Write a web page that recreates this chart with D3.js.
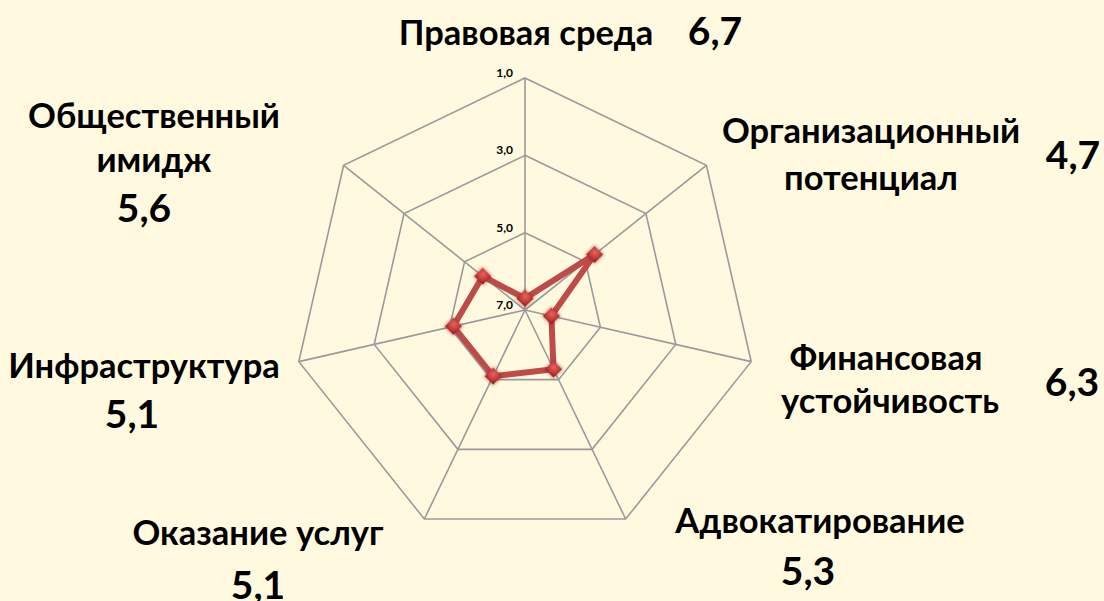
<!DOCTYPE html>
<html>
<head>
<meta charset="utf-8">
<script src="https://cdn.jsdelivr.net/npm/d3@7"></script>
<style>
  body { margin: 0; background: #FFFADF; }
  svg { display: block; }
  .lbl { font-family: Lato, "Open Sans", sans-serif; font-weight: bold; fill: #000; }
</style>
</head>
<body>
<div id="chart"></div>
<script>
// categories (clockwise from top) and the scores
var categories = ["Правовая среда", "Организационный потенциал", "Финансовая устойчивость",
  "Адвокатирование", "Оказание услуг", "Инфраструктура", "Общественный имидж"];
var scores = [6.7, 4.7, 6.3, 5.3, 5.1, 5.1, 5.6];
var tickValues = [1, 3, 5, 7];

var width = 1104, height = 601;
var cx = 525, cy = 310, R = 232;

var svg = d3.select("#chart").append("svg")
  .attr("width", width).attr("height", height);

// axis is reversed: 7 at the centre, 1 on the outside
var r = d3.scaleLinear().domain([7, 1]).range([0, R]);
var angle = d3.scaleLinear().domain([0, categories.length]).range([0, 2 * Math.PI]);

var pt = function(i, v){
  var a = angle(i);
  return [cx + r(v) * Math.sin(a), cy - r(v) * Math.cos(a)];
};

var g = svg.append("g");

// grid rings
tickValues.filter(function(t){ return t < 7; }).forEach(function(t){
  var pts = categories.map(function(c, i){ return pt(i, t); });
  g.append("polygon")
    .attr("points", pts.map(function(p){ return p.join(","); }).join(" "))
    .attr("fill", "none").attr("stroke", "#9A9A9A").attr("stroke-width", 1.6);
});

// spokes
categories.forEach(function(c, i){
  var p = pt(i, 1);
  g.append("line").attr("x1", cx).attr("y1", cy).attr("x2", p[0]).attr("y2", p[1])
    .attr("stroke", "#9A9A9A").attr("stroke-width", 1.6);
});

// tick labels along top spoke
tickValues.forEach(function(t){
  g.append("text").attr("class", "lbl")
    .attr("x", cx - 12).attr("y", cy - r(t) - 1)
    .attr("text-anchor", "end").attr("font-size", 12)
    .text(d3.format(".1f")(t).replace(".", ","));
});

// marker gradient
var defs = svg.append("defs");
var grad = defs.append("radialGradient").attr("id", "mk").attr("cx", "40%").attr("cy", "35%").attr("r", "70%");
grad.append("stop").attr("offset", "0%").attr("stop-color", "#E8635E");
grad.append("stop").attr("offset", "70%").attr("stop-color", "#C23A36");
grad.append("stop").attr("offset", "100%").attr("stop-color", "#9E2A27");
var blur = defs.append("filter").attr("id", "sh").attr("x", "-50%").attr("y", "-50%").attr("width", "200%").attr("height", "200%");
blur.append("feGaussianBlur").attr("stdDeviation", 1.5);

// series line
var linePts = scores.map(function(v, i){ return pt(i, v); });
g.append("path")
  .attr("d", d3.line().curve(d3.curveLinearClosed)(linePts))
  .attr("fill", "none").attr("stroke", "#BE4B48").attr("stroke-width", 6)
  .attr("stroke-linejoin", "round");

// diamond markers
var mk = g.selectAll(".mk").data(linePts).enter().append("g")
  .attr("transform", function(p){ return "translate(" + p[0] + "," + p[1] + ") rotate(45)"; });
mk.append("path").attr("d", d3.symbol().type(d3.symbolSquare).size(190))
  .attr("fill", "#8E2623").attr("opacity", 0.5).attr("filter", "url(#sh)");
mk.append("path").attr("d", d3.symbol().type(d3.symbolSquare).size(140)).attr("fill", "url(#mk)");

// category labels and values (text, centre x, baseline y)
var labels = [
  { lines: [["Правовая среда", 526, 45]], value: [715, 45] },
  { lines: [["Организационный", 871, 143], ["потенциал", 871, 190]], value: [1073, 169] },
  { lines: [["Финансовая", 886, 370], ["устойчивость", 890, 413]], value: [1072, 396] },
  { lines: [["Адвокатирование", 820, 533]], value: [808, 585] },
  { lines: [["Оказание услуг", 258, 545]], value: [258, 599] },
  { lines: [["Инфраструктура", 144, 378]], value: [132, 428] },
  { lines: [["Общественный", 154, 128], ["имидж", 154, 172]], value: [144, 222] }
];
labels.forEach(function(l, i){
  l.lines.forEach(function(ln){
    svg.append("text").attr("class", "lbl")
      .attr("x", ln[1]).attr("y", ln[2]).attr("text-anchor", "middle")
      .attr("font-size", 34.5).text(ln[0]);
  });
  svg.append("text").attr("class", "lbl")
    .attr("x", l.value[0]).attr("y", l.value[1]).attr("text-anchor", "middle")
    .attr("font-size", 39).text(d3.format(".1f")(scores[i]).replace(".", ","));
});
</script>
</body>
</html>
